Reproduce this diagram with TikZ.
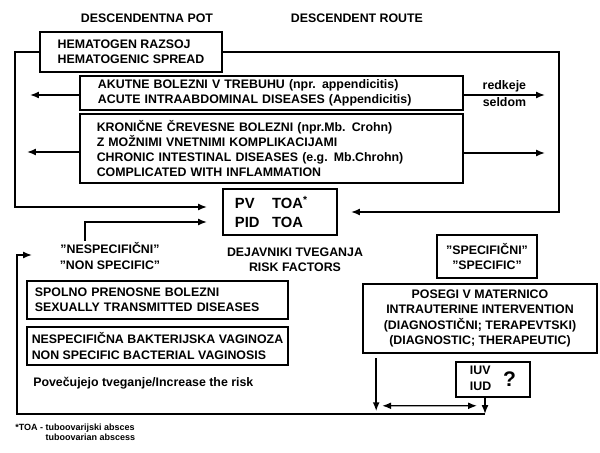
\documentclass[tikz,border=0pt]{standalone}
\usepackage{fontspec}
\setmainfont{Liberation Sans}
\usepackage{xcolor}
\usetikzlibrary{arrows.meta, positioning, calc}

\begin{document}
\begin{tikzpicture}[x=0.025cm, y=-0.025cm,
      every node/.style={font=\bfseries\fontsize{8.8}{10.8}\selectfont},
      box/.style={draw, line width=1.1pt, inner ysep=0pt, align=left},
      cbox/.style={draw, line width=1.1pt, inner sep=0pt, align=center},
      arrow/.style={-{Latex[length=2.2mm,width=1.7mm]}, line width=1pt},
      dblarrow/.style={{Latex[length=2.2mm,width=1.7mm]}-{Latex[length=2.2mm,width=1.7mm]}, line width=1pt},
      gap/.style={shorten >=0.38cm}
    ]
    \useasboundingbox (0,0) rectangle (600,453);

    % Titles
    \node (titlesl) at (147,18) {DESCENDENTNA POT};
    \node (titleen) at (357,18) {DESCENDENT ROUTE};

    % Descending route
    \node[box, inner xsep=0pt, minimum width=4.55cm, minimum height=1cm] (hema) at (131,52) {HEMATOGEN RAZSOJ\\HEMATOGENIC SPREAD};
    \node[box, inner xsep=0.45cm, text width=8.675cm, minimum height=0.85cm] (acute) at (271.5,93) {AKUTNE BOLEZNI V TREBUHU (npr. appendicitis)\\ACUTE INTRAABDOMINAL DISEASES (Appendicitis)};
    \node[box, inner xsep=0.42cm, text width=8.735cm, minimum height=1.725cm] (chronic) at (271.5,148.5) {KRONIČNE ČREVESNE BOLEZNI (npr.Mb. Crohn)\\Z MOŽNIMI VNETNIMI KOMPLIKACIJAMI\\CHRONIC INTESTINAL DISEASES (e.g. Mb.Chrohn)\\COMPLICATED WITH INFLAMMATION};

    % Result
    \node[box, inner xsep=0.3cm, text width=2.25cm, minimum height=1.15cm, font=\bfseries\fontsize{10.5}{13.5}\selectfont] (pv) at (280,212) {\makebox[0.93cm][l]{PV}TOA\textsuperscript{*}\\\makebox[0.93cm][l]{PID}TOA};
    \node[align=center] (risk) at (295,259.5) {DEJAVNIKI TVEGANJA\\RISK FACTORS};

    % Non specific factors
    \node[align=center, inner sep=1pt] (nonspec) at (110,256) {"NESPECIFIČNI"\\"NON SPECIFIC"};
    \node[box, inner xsep=0.2cm, text width=6.125cm, minimum height=0.95cm] (std) at (157.5,300) {SPOLNO PRENOSNE BOLEZNI\\SEXUALLY TRANSMITTED DISEASES};
    \node[box, inner xsep=0pt, minimum width=6.525cm, minimum height=0.95cm] (vag) at (157.5,346) {NESPECIFIČNA BAKTERIJSKA VAGINOZA\\NON SPECIFIC BACTERIAL VAGINOSIS};
    \node[anchor=west, inner sep=0pt] (incr) at (33,383) {Povečujejo tveganje/Increase the risk};

    % Specific factors
    \node[cbox, minimum width=2.5cm, minimum height=1.075cm] (spec) at (487,256.5) {"SPECIFIČNI"\\"SPECIFIC"};
    \node[cbox, minimum width=5.85cm, minimum height=1.725cm] (posegi) at (480,318.5) {POSEGI V MATERNICO\\INTRAUTERINE INTERVENTION\\(DIAGNOSTIČNI; TERAPEVTSKI)\\(DIAGNOSTIC; THERAPEUTIC)};
    \node[cbox, minimum width=1.85cm, minimum height=0.875cm] (iud) at (493,379.5) {\begin{tabular}{@{}l@{}}IUV\\IUD\end{tabular}\hspace{0.3cm}\raisebox{-3pt}{\fontsize{15}{15}\selectfont ?}};

    % Footnote
    \node[anchor=west, align=left, inner sep=0pt, font=\bfseries\fontsize{6.4}{7.1}\selectfont] (note) at (15,432) {*TOA - tuboovarijski absces\\\phantom{*TOA - }tuboovarian abscess};

    % Free ends
    \coordinate (acuteout) at (30,95);
    \coordinate (rareout) at (545,95);
    \coordinate (chronout) at (27,152);
    \coordinate (chronin) at (545,153);
    \coordinate (hemaleft) at (15,207);
    \coordinate (hemaright) at (559,212);
    \coordinate (bend) at (17,414);
    \coordinate (back) at (32,255);
    \coordinate (iudout) at ($(iud.south)+(-8,0)$);
    \coordinate (posout) at ($(posegi.south west)+(14,0)$);

    % Arrows from the abdomen
    \draw[arrow] (acute.west |- acuteout) -- (acuteout);
    \draw[arrow] (acute.east |- rareout) -- (rareout) node[midway, above, inner sep=1.5pt] {redkeje} node[midway, below, inner sep=1pt] {seldom};
    \draw[arrow] (chronic.west |- chronout) -- (chronout);
    \draw[arrow] (chronic.east |- chronin) -- (chronin);

    % Arrows into PV / PID
    \draw[arrow, gap] (hema.west) -| (hemaleft) -- ($(pv.west)+(0,-5)$);
    \draw[arrow, shorten >=0.33cm] (hema.east) -| (hemaright) -- (pv.east);
    \draw[arrow, gap] ($(nonspec.north)+(-25,0)$) |- ($(pv.west)+(0,10)$);

    % Intrauterine loop
    \draw[arrow] (iudout) -- (iudout |- bend);
    \draw[arrow, shorten <=3pt, shorten >=2pt] (posout) -- (posout |- bend);
    \draw[dblarrow] ($(posout)+(6,52)$) -- ($(iudout)+(-8,8)$);
    \draw[arrow] (iudout |- bend) -- (bend) |- (back);
  \end{tikzpicture}
\end{document}
